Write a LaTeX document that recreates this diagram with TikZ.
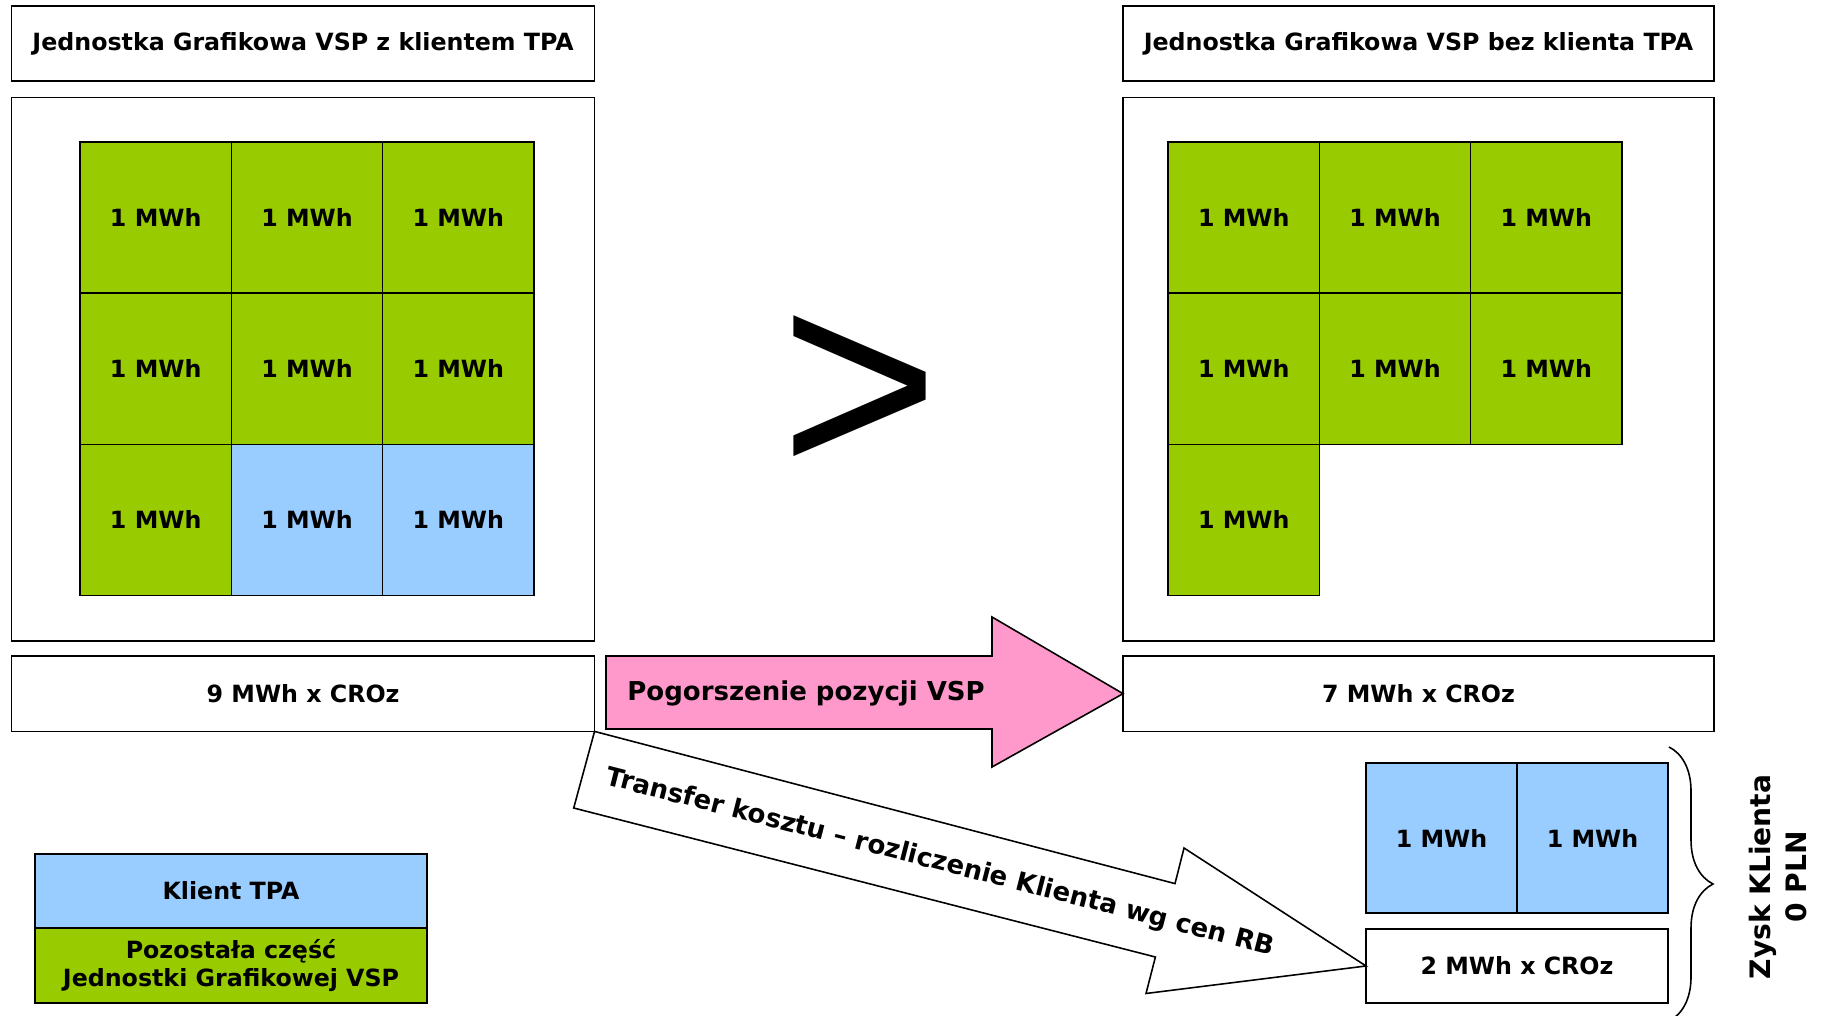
\documentclass[tikz,border=0pt]{standalone}
\usepackage{fontspec}
\setmainfont{DejaVu Sans}
\newfontfamily\gtfont{Liberation Sans}
\usepackage{xcolor}
\usetikzlibrary{positioning, decorations.pathreplacing}

\definecolor{vspgreen}{HTML}{99CC00}
\definecolor{tpablue}{HTML}{99CCFF}
\definecolor{lossrose}{HTML}{FF99CC}

\begin{document}
\begin{tikzpicture}[
  x=0.02cm, y=-0.02cm,
  box/.style={draw, line width=0.9pt, align=center, inner sep=0pt, outer sep=0pt,
    font=\fontsize{13.5}{16}\selectfont\bfseries},
  headbox/.style={box, minimum width=11.66cm, minimum height=1.51cm},
  framebox/.style={box, minimum width=11.66cm, minimum height=10.87cm},
  sumbox/.style={box, minimum width=11.66cm, minimum height=1.51cm},
  cell/.style={box, minimum width=3.026cm, minimum height=3.026cm},
  greencell/.style={cell, fill=vspgreen},
  bluecell/.style={cell, fill=tpablue, minimum width=3.02cm, minimum height=3.0cm},
  legendbox/.style={box, minimum width=7.84cm, minimum height=1.49cm},
  bigarrow/.style={draw, line width=0.9pt, line join=miter},
  arrowlabel/.style={inner sep=0pt, font=\fontsize{14.8}{17}\selectfont\bfseries}
]
\fill[white] (0,0) rectangle (1821,1016);
\useasboundingbox (0,0) rectangle (1821,1016);

% Left: unit with the TPA client
\node[headbox] (titleL) at (303.1,43.5) {Jednostka Grafikowa VSP z klientem TPA};
\node[framebox, below=0.326cm of titleL] (frameL) {};
\node[sumbox, below=0.3cm of frameL] (botL) {9 MWh x CROz};

\node[greencell] (l11) at (155.7,217.4) {1 MWh};
\node[greencell, right=0pt of l11] (l12) {1 MWh};
\node[greencell, right=0pt of l12] (l13) {1 MWh};
\node[greencell, below=0pt of l11] (l21) {1 MWh};
\node[greencell, right=0pt of l21] (l22) {1 MWh};
\node[greencell, right=0pt of l22] (l23) {1 MWh};
\node[greencell, below=0pt of l21] (l31) {1 MWh};
\node[cell, fill=tpablue, right=0pt of l31] (l32) {1 MWh};
\node[cell, fill=tpablue, right=0pt of l32] (l33) {1 MWh};

% Right: unit without the TPA client
\node[headbox, minimum width=11.82cm] (titleR) at (1418.5,43.5) {Jednostka Grafikowa VSP bez klienta TPA};
\node[framebox, minimum width=11.82cm, below=0.326cm of titleR] (frameR) {};
\node[sumbox, minimum width=11.82cm, below=0.3cm of frameR] (botR) {7 MWh x CROz};

\node[greencell] (r11) at (1243.7,217.4) {1 MWh};
\node[greencell, right=0pt of r11] (r12) {1 MWh};
\node[greencell, right=0pt of r12] (r13) {1 MWh};
\node[greencell, below=0pt of r11] (r21) {1 MWh};
\node[greencell, right=0pt of r21] (r22) {1 MWh};
\node[greencell, right=0pt of r22] (r23) {1 MWh};
\node[greencell, below=0pt of r21] (r31) {1 MWh};

% comparison sign
\node[inner sep=0pt, anchor=base west, xscale=0.98, font=\gtfont\fontsize{158}{158}\selectfont] (gt) at (780,478) {>};

% Client part settled separately
\node[bluecell] (t1) at (1441.5,838) {1 MWh};
\node[bluecell, right=0pt of t1] (t2) {1 MWh};
\node[box, minimum width=6.04cm, minimum height=1.48cm] (mwh2) at (1517,966) {2 MWh x CROz};

\draw[line width=0.9pt, decorate, decoration={brace, amplitude=0.88cm}]
  (1669,747) -- (1669,1021);
\node[rotate=90, align=center, font=\fontsize{16}{21}\selectfont\bfseries] (zysk) at (1778,877) {Zysk KLienta\\0 PLN};

% Arrows
\draw[bigarrow, fill=lossrose] (606,656) -- (992,656) -- (992,617) -- (botR.west)
  -- (992,767) -- (992,729) -- (606,729) -- cycle;
\node[arrowlabel, anchor=west] (lossLabel) at (627,693) {Pogorszenie pozycji VSP};

\draw[bigarrow, fill=white] (botL.south east) -- (1175,883.6) -- (1184,848) -- (mwh2.west)
  -- (1146,993.5) -- (1155.4,957) -- (573.7,808) -- cycle;
\node[arrowlabel, rotate=-14.4] (transferLabel) at (940,863) {Transfer kosztu – rozliczenie Klienta wg cen RB};

% Legend
\node[legendbox, fill=tpablue] (legTpa) at (231,891) {Klient TPA};
\node[legendbox, fill=vspgreen, below=0pt of legTpa] (legVsp) {Pozostała część\\Jednostki Grafikowej VSP};

\end{tikzpicture}
\end{document}
